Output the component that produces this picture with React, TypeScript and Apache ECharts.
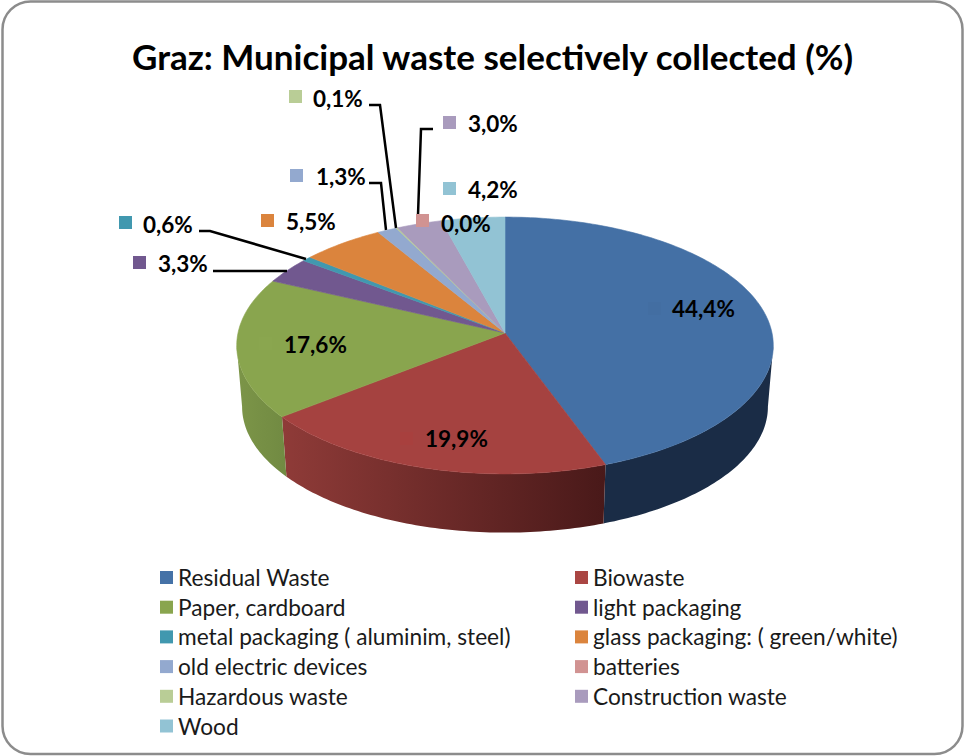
import React, { useEffect, useRef } from "react";
import * as echarts from "echarts";

const titleText = "Graz: Municipal waste selectively collected (%)";
const categories = [
  "Residual Waste", "Biowaste", "Paper, cardboard", "light packaging",
  "metal packaging ( aluminim, steel)", "glass packaging: ( green/white)",
  "old electric devices", "batteries", "Hazardous waste", "Construction waste", "Wood",
];
const shares = [44.4, 19.9, 17.6, 3.3, 0.6, 5.5, 1.3, 0.0, 0.1, 3.0, 4.2];
const colors = [
  "#4572A7", "#AA4643", "#89A54E", "#71588F", "#4198AF", "#DB843D",
  "#93A9CF", "#D19392", "#B9CD96", "#A99BBD", "#92C3D4",
];
const sliceColors = [
  "#4470A5", "#A54240", "#89A54E", "#71588F", "#4198AF", "#DB843D",
  "#93A9CF", "#D19392", "#B9CD96", "#A99BBD", "#92C3D4",
];
const markerColors = [
  "#436EA2", "#A8403E", "#8AA64F", "#71588F", "#4198AF", "#DB843D",
  "#93A9CF", "#D19392", "#B9CD96", "#A99BBD", "#92C3D4",
];
const wallColors: (string[] | null)[] = [
  ["#1A2C46", "#1A2C46"], ["#8F3B38", "#491919"], ["#7C9548", "#718A42"],
  null, null, null, null, null, null, null, null,
];

// label placement per slice: marker left/top, text left, text centre y
const labelSpots = [
  [648, 302, 672, 308], [400, 432, 425, 438], [259, 337, 284, 344], [133, 256, 158, 263],
  [119, 216, 143, 224], [261, 214, 286, 221], [290, 169, 316, 176], [416, 214, 441, 223],
  [289, 90, 313, 98], [443, 116, 468, 123], [443, 182, 468, 189],
];
const leaderLines = [
  [[369, 105], [380, 105], [396, 228]],
  [[369, 183], [381, 183], [386, 230]],
  [[199, 231], [210, 231], [306, 259]],
  [[213, 271], [287, 271]],
  [[433, 129], [421, 129], [418, 215]],
];

// Perspective disc
const CX = 505, CY = 333, RX = 267, RY = 127.2, K = 0.0973, SHRINK = 0.98, DROP = 61.5;
const WALL_FROM = 95.6, WALL_TO = 264.4;
const total = shares.reduce((a, b) => a + b, 0);
const startOf = (i: number) => shares.slice(0, i).reduce((a, b) => a + b, 0);
const rim = (deg: number) => {
  const t = (deg * Math.PI) / 180;
  const u = Math.sin(t), v = -Math.cos(t), w = 1 - K * v;
  return [CX + (RX * u) / w, CY + (RY * v) / w];
};
const rimLow = (deg: number) => {
  const [x, y] = rim(deg);
  return [CX + (x - CX) * SHRINK, CY + (y - CY) * SHRINK + DROP];
};
const arcDegrees = (a: number, b: number) => {
  const out: number[] = [];
  for (let d = a; d < b; d += 1) out.push(d);
  out.push(b);
  return out;
};

const sliceSeries = categories.map((name, i) => ({
  type: "custom",
  name,
  coordinateSystem: "none",
  silent: true,
  clip: false,
  z: 2,
  itemStyle: { color: colors[i] },
  data: [[shares[i]]],
  renderItem: (_: any, api: any) => {
    const value = api.value(0);
    if (!value) return null;
    const a = (startOf(i) / total) * 360;
    const b = a + (value / total) * 360;
    const children: any[] = [];
    const wall = wallColors[i];
    const wa = Math.max(a, WALL_FROM), wb = Math.min(b, WALL_TO);
    if (wall && wb > wa) {
      const deg = arcDegrees(wa, wb);
      const pts = [...deg.map(rim), ...deg.slice().reverse().map(rimLow)];
      children.push({
        type: "polygon",
        shape: { points: pts },
        style: {
          fill: new echarts.graphic.LinearGradient(0, 0, 1, 0, [
            { offset: 0, color: wall[0] },
            { offset: 1, color: wall[1] },
          ]),
          stroke: "none",
        },
      });
    }
    children.push({
      type: "polygon",
      shape: { points: [[CX, CY], ...arcDegrees(a, b).map(rim)] },
      style: { fill: sliceColors[i], stroke: sliceColors[i], lineWidth: 0.6 },
    });
    return { type: "group", children };
  },
}));

const labelSeries = {
  type: "custom",
  name: "labels",
  coordinateSystem: "none",
  silent: true,
  clip: false,
  z: 5,
  data: shares.map((v, i) => [v, i]),
  renderItem: (_: any, api: any) => {
    const value = api.value(0);
    const i = api.value(1);
    const [mx, my, tx, ty] = labelSpots[i];
    return {
      type: "group",
      children: [
        { type: "rect", shape: { x: mx, y: my, width: 13, height: 13 }, style: { fill: markerColors[i] } },
        {
          type: "text",
          style: {
            text: value.toFixed(1).replace(".", ",") + "%",
            x: tx,
            y: ty,
            fill: "#000",
            font: "bold 22.5px Lato",
            verticalAlign: "middle",
          },
        },
      ],
    };
  },
};

const leaderSeries = {
  type: "custom",
  name: "leaders",
  coordinateSystem: "none",
  silent: true,
  clip: false,
  z: 4,
  data: leaderLines.map((_, i) => [i]),
  renderItem: (_: any, api: any) => ({
    type: "polyline",
    shape: { points: leaderLines[api.value(0)] },
    style: { stroke: "#000", lineWidth: 2.5, fill: "none" },
  }),
};

const legendBase = {
  orient: "vertical",
  icon: "rect",
  itemWidth: 13,
  itemHeight: 13,
  itemGap: 6.7,
  selectedMode: false,
  padding: 0,
  textStyle: { fontFamily: "Lato", fontSize: 22.7, color: "#1a1a1a", padding: [0, 0, 0, 0] },
};

export default function App() {
  const ref = useRef<HTMLDivElement>(null);
  useEffect(() => {
    document.body.style.margin = "0";
    const chart = echarts.init(ref.current!, undefined, { renderer: "svg" });
    chart.setOption({
      animation: false,
      backgroundColor: "#fff",
      title: {
        text: titleText,
        left: 132,
        top: 38,
        padding: 0,
        textStyle: { fontFamily: "Lato", fontWeight: "bold", fontSize: 35, color: "#000" },
      },
      legend: [
        { ...legendBase, left: 160, top: 566, data: categories.filter((_, i) => i % 2 === 0) },
        { ...legendBase, left: 575, top: 566, data: categories.filter((_, i) => i % 2 === 1) },
      ],
      graphic: [
        {
          type: "rect",
          z: 0,
          shape: { x: 2.5, y: 1.5, width: 960, height: 752.5, r: 28 },
          style: { fill: "#fff", stroke: "#8c8c8c", lineWidth: 2.5 },
        },
      ],
      series: [...sliceSeries, leaderSeries, labelSeries],
    });
    return () => chart.dispose();
  }, []);
  return <div ref={ref} style={{ position: "absolute", left: 0, top: 0, width: 965, height: 756 }} />;
}
